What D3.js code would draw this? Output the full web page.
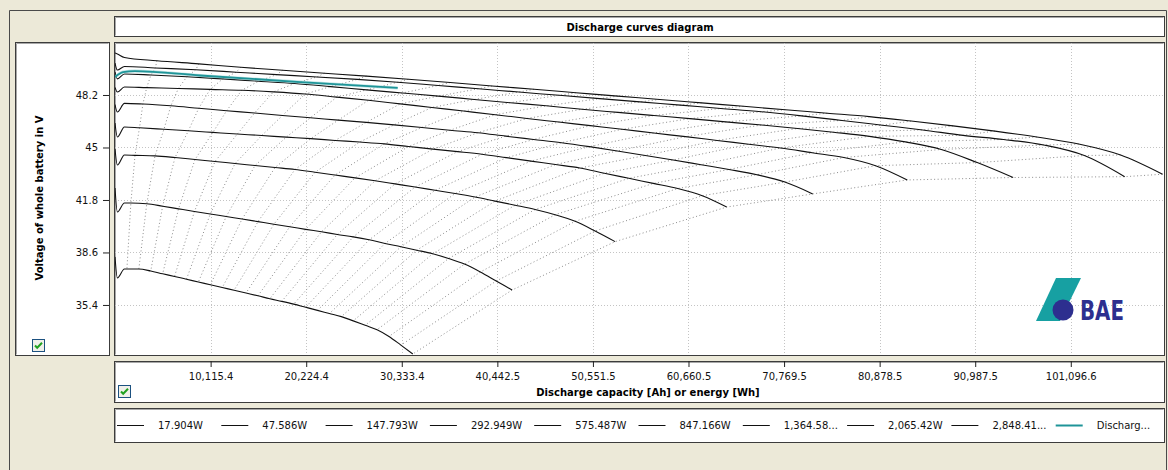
<!DOCTYPE html>
<html><head><meta charset="utf-8">
<script src="https://cdn.jsdelivr.net/npm/d3@7"></script>
<style>
html,body{margin:0;padding:0;background:#ECE9D8;overflow:hidden;}
svg{display:block;}
text{font-family:"DejaVu Sans",Verdana,sans-serif;}
</style></head><body>
<svg id="c" width="1168" height="470"></svg>
<script>
// ---------------- data ----------------
const seriesNames = ["17.904W","47.586W","147.793W","292.949W","575.487W","847.166W","1,364.58...","2,065.42W","2,848.41...","Discharg..."];
const capacities = [110800,106800,95000,83800,73800,64700,52900,42000,31500]; // Wh at end of each curve
const startV    = [50.76,50.15,49.60,48.66,47.62,46.49,44.91,42.53,38.33];
const dipV      = [50.70,49.72,49.18,48.38,47.16,45.64,43.93,41.07,37.05];
const recoveryV = [50.49,49.94,49.48,48.69,47.69,46.25,44.54,41.62,37.59];
const dipEnergy = 250, recoveryEnergy = 1000;
const fractions = [0.04,0.08,0.12,0.16,0.20,0.24,0.28,0.32,0.36,0.40,0.44,0.48,0.52,0.56,0.60,0.64,0.68,0.72,0.76,0.80,0.84,0.88,0.92,0.96,1.00];
const v17904  = [50.29,50.10,49.89,49.71,49.53,49.35,49.16,48.96,48.75,48.55,48.34,48.13,47.93,47.72,47.51,47.30,47.09,46.88,46.61,46.32,46.00,45.64,45.21,44.54,43.37];
const v47586  = [49.85,49.74,49.59,49.44,49.30,49.15,48.98,48.78,48.58,48.38,48.18,47.98,47.78,47.58,47.38,47.18,46.93,46.65,46.36,46.07,45.74,45.49,45.15,44.51,43.22];
const v147793 = [49.42,49.31,49.18,49.04,48.90,48.71,48.51,48.32,48.13,47.93,47.73,47.54,47.33,47.14,46.95,46.76,46.56,46.37,46.16,45.93,45.68,45.34,44.88,44.08,43.17];
const v292949 = [48.65,48.60,48.54,48.49,48.39,48.26,48.07,47.88,47.66,47.44,47.22,47.00,46.77,46.55,46.33,46.11,45.88,45.66,45.43,45.20,44.97,44.68,44.39,43.89,43.02];
const v575487 = [47.65,47.54,47.39,47.24,47.10,46.95,46.81,46.67,46.53,46.38,46.22,46.05,45.90,45.69,45.49,45.29,45.05,44.79,44.51,44.24,43.95,43.66,43.34,42.89,42.17];
const v847166 = [46.20,46.11,46.02,45.92,45.82,45.73,45.63,45.54,45.43,45.33,45.22,45.06,44.90,44.75,44.59,44.38,44.17,43.96,43.75,43.43,43.12,42.81,42.50,42.06,41.37];
const v1364   = [44.52,44.49,44.39,44.27,44.15,44.02,43.90,43.78,43.66,43.49,43.32,43.15,42.97,42.78,42.59,42.39,42.19,41.98,41.73,41.48,41.22,40.90,40.50,39.91,39.26];
const v2065   = [41.62,41.57,41.42,41.26,41.10,40.95,40.79,40.64,40.48,40.32,40.17,40.01,39.86,39.70,39.55,39.37,39.15,38.95,38.74,38.52,38.23,37.89,37.41,36.86,36.31];
const v2848   = [37.59,37.59,37.47,37.30,37.14,36.97,36.80,36.63,36.46,36.30,36.13,35.96,35.78,35.62,35.45,35.26,35.07,34.88,34.69,34.43,34.16,33.89,33.48,32.95,32.41];
const measuredEnergy = [0,850,2100,9000,19600,29900];
const measuredV      = [49.30,49.60,49.66,49.39,48.99,48.63];
const yTicks = [48.2,45,41.8,38.6,35.4];
const xTicks = [10115.4,20224.4,30333.4,40442.5,50551.5,60660.5,70769.5,80878.5,90987.5,101096.6];
const titleText = "Discharge curves diagram";
const xTitle = "Discharge capacity [Ah] or energy [Wh]";
const yTitle = "Voltage of whole battery in V";

// ---------------- layout ----------------
const svg = d3.select("#c");
const P = {l:115, r:1163, t:43, b:354};
const x = d3.scaleLinear().domain([0,110850]).range([P.l,P.r]);
const y = d3.scaleLinear().domain([32.41,51.37]).range([P.b,P.t]);

const bg = "#ECE9D8";
svg.append("rect").attr("width",1168).attr("height",470).attr("fill",bg);
// outer frame
svg.append("path").attr("d","M9.5,475V10.5H1166.5V475").attr("fill","none").attr("stroke","#4a4a4a");

function panel(x0,y0,w,h){
  svg.append("rect").attr("x",x0+0.5).attr("y",y0+0.5).attr("width",w).attr("height",h)
    .attr("fill","#fff").attr("stroke","#3c3c3c").attr("stroke-width",1);
  svg.append("path").attr("d",`M${x0+1.5},${y0+h-0.5}V${y0+1.5}H${x0+w-0.5}`)
    .attr("fill","none").attr("stroke","#a8a8a8").attr("stroke-width",1);
}
panel(114,16,1050,20);   // title
panel(15,42,94,313);     // y axis
panel(114,42,1050,313);  // plot
panel(114,361,1050,41);  // x axis
panel(114,408,1050,34);  // legend

svg.append("text").attr("x",640).attr("y",30.5).attr("text-anchor","middle")
  .attr("font-size",10).attr("font-weight","bold").attr("fill","#000").text(titleText);

// clip
svg.append("defs").append("clipPath").attr("id","clip").append("rect")
  .attr("x",P.l).attr("y",P.t).attr("width",P.r-P.l+1).attr("height",P.b-P.t+1);
const plot = svg.append("g").attr("clip-path","url(#clip)");

// grid
plot.selectAll(".gy").data(yTicks).join("line")
  .attr("x1",P.l).attr("x2",P.r).attr("y1",d=>Math.round(y(d))+0.5).attr("y2",d=>Math.round(y(d))+0.5)
  .attr("stroke","#c4c4c4").attr("stroke-dasharray","1,2");
plot.selectAll(".gx").data(xTicks).join("line")
  .attr("y1",P.t).attr("y2",P.b).attr("x1",d=>Math.round(x(d))+0.5).attr("x2",d=>Math.round(x(d))+0.5)
  .attr("stroke","#c4c4c4").attr("stroke-dasharray","1,2");

// curves
const curveValues = [v17904,v47586,v147793,v292949,v575487,v847166,v1364,v2065,v2848];
const curves = curveValues.map((vals,i)=>{
  const pts = [[0,startV[i]],[dipEnergy,dipV[i]],[recoveryEnergy,recoveryV[i]]];
  vals.forEach((v,k)=>pts.push([fractions[k]*capacities[i],v]));
  return pts;
});
const line = d3.line().x(d=>x(d[0])).y(d=>y(d[1]));
const smooth = d3.line().x(d=>x(d[0])).y(d=>y(d[1])).curve(d3.curveMonotoneX);

// iso lines (connect k-th points across curves)
const iso = fractions.map((f,k)=>curveValues.map((vals,i)=>[f*capacities[i],vals[k]]));
plot.selectAll(".iso").data(iso).join("path")
  .attr("d",line).attr("fill","none").attr("stroke","#8c8c8c").attr("stroke-width",1)
  .attr("stroke-dasharray","1,2.5");

plot.selectAll(".curve").data(curves).join("path")
  .attr("d",smooth).attr("fill","none").attr("stroke","#111").attr("stroke-width",1.1);

const measured = measuredEnergy.map((e,i)=>[e,measuredV[i]]);
plot.append("path").attr("d",smooth(measured)).attr("fill","none")
  .attr("stroke","#8fd0d0").attr("stroke-width",3).attr("stroke-opacity",0.6);
plot.append("path").attr("d",smooth(measured)).attr("fill","none")
  .attr("stroke","#1f9498").attr("stroke-width",1.8);

// logo
const logo = svg.append("g");
logo.append("path").attr("d","M1056,278L1081,278L1060,321L1036,321Z").attr("fill","#17a0a2");
logo.append("circle").attr("cx",1063).attr("cy",310).attr("r",10.5).attr("fill","#2d2f8f");
logo.append("text").attr("x",1080).attr("y",320).attr("font-family","'Liberation Sans',Arial,sans-serif")
  .attr("font-weight","bold").attr("font-size",26).attr("fill","#2d2f8f")
  .attr("textLength",44).attr("lengthAdjust","spacingAndGlyphs").text("BAE");

// y axis
const ya = svg.append("g").attr("transform","translate(109,0)")
  .call(d3.axisLeft(y).tickValues(yTicks).tickFormat(d3.format("")).tickSize(6).tickPadding(5));
ya.select(".domain").remove();
ya.selectAll("text").attr("font-size",10).attr("font-family","'DejaVu Sans',sans-serif").attr("fill","#111");
ya.selectAll("line").attr("stroke","#222");
svg.append("text").attr("transform","translate(43,198) rotate(-90)").attr("text-anchor","middle")
  .attr("font-size",10).attr("font-weight","bold").attr("fill","#000").text(yTitle);

// x axis
const xa = svg.append("g").attr("transform","translate(0,361)")
  .call(d3.axisBottom(x).tickValues(xTicks).tickFormat(d3.format(",.1f")).tickSize(6).tickPadding(6));
xa.select(".domain").remove();
xa.selectAll("text").attr("font-size",10).attr("font-family","'DejaVu Sans',sans-serif").attr("fill","#111");
xa.selectAll("line").attr("stroke","#222");
svg.append("text").attr("x",648).attr("y",396).attr("text-anchor","middle")
  .attr("font-size",10).attr("font-weight","bold").attr("fill","#000").text(xTitle);

// checkboxes
function checkbox(cx,cy){
  const g = svg.append("g").attr("transform",`translate(${cx},${cy})`);
  g.append("rect").attr("x",0.5).attr("y",0.5).attr("width",12).attr("height",12)
    .attr("fill","#f0f0ea").attr("stroke","#1c5180");
  g.append("path").attr("d","M3,6.5L5.2,8.8L10,3.8").attr("fill","none").attr("stroke","#21a121").attr("stroke-width",2);
}
checkbox(32,339);
checkbox(118,385);

// legend
const legend = svg.append("g");
seriesNames.forEach((name,i)=>{
  const lx = 117 + i*104.3;
  const teal = i===seriesNames.length-1;
  legend.append("line").attr("x1",lx).attr("x2",lx+27).attr("y1",425.5).attr("y2",425.5)
    .attr("stroke",teal?"#1f9498":"#111").attr("stroke-width",teal?2:1);
  legend.append("text").attr("x",lx+41).attr("y",429).attr("font-size",10).attr("fill","#111").text(name);
});
</script>
</body></html>
